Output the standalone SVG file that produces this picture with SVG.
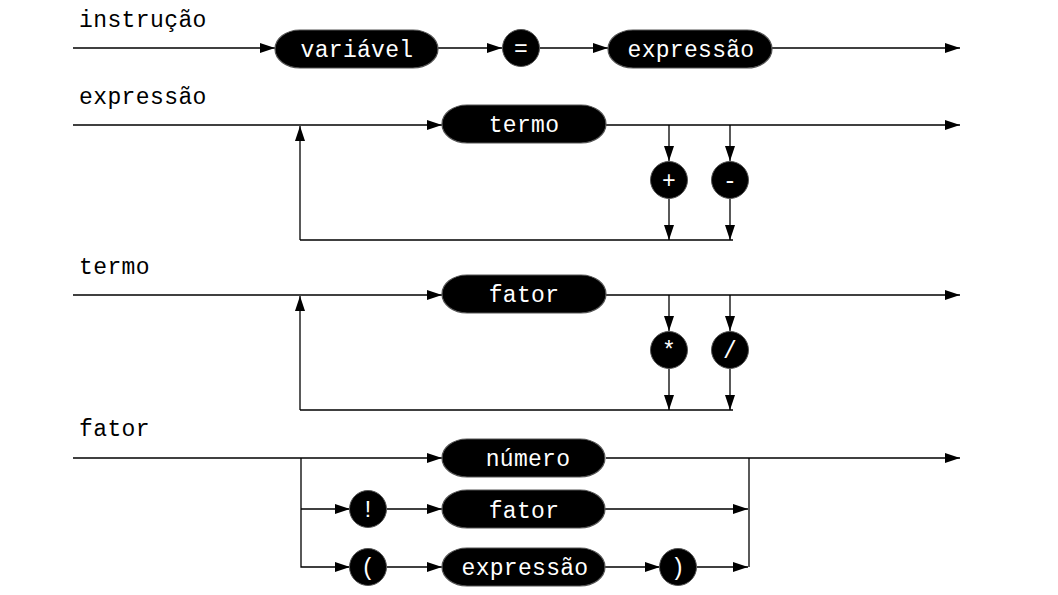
<svg xmlns="http://www.w3.org/2000/svg" width="1058" height="595" viewBox="0 0 1058 595">
<defs>
<marker id="arr" markerUnits="userSpaceOnUse" markerWidth="15" markerHeight="10" refX="15" refY="5" orient="auto">
<path d="M0,0 L15,5 L0,10 z" fill="#000"/>
</marker>
<style>
.lbl{font-family:"Liberation Mono","DejaVu Sans Mono",monospace;font-size:23px;letter-spacing:0.4px;fill:#000}
.t{font-family:"Liberation Mono","DejaVu Sans Mono",monospace;font-size:23px;letter-spacing:0.3px;fill:#fff;text-anchor:middle}
.pill{fill:#000;stroke:#555;stroke-width:1.2}
.c{fill:#000;stroke:#555;stroke-width:1}
.ln{fill:none;stroke:#000;stroke-width:1.3}
.a{marker-end:url(#arr)}
</style>
</defs>
<rect width="1058" height="595" fill="#fff"/>
<g id="labels">
<text class="lbl" x="79" y="27">instrução</text>
<text class="lbl" x="79" y="104">expressão</text>
<text class="lbl" x="79" y="274">termo</text>
<text class="lbl" x="79" y="436">fator</text>
</g>
<g id="connectors">
<path class="ln a" d="M73,48 H275"/>
<path class="ln a" d="M438,48 H502"/>
<path class="ln a" d="M540,48 H608"/>
<path class="ln a" d="M772,48 H960"/>
<path class="ln a" d="M73,125 H442"/>
<path class="ln a" d="M606,125 H960"/>
<path class="ln a" d="M300,240 V126"/>
<path class="ln" d="M300,240 H733"/>
<path class="ln a" d="M669,125 V161"/>
<path class="ln a" d="M669,199 V240"/>
<path class="ln a" d="M730,125 V161"/>
<path class="ln a" d="M730,199 V240"/>
<path class="ln a" d="M73,295 H442"/>
<path class="ln a" d="M606,295 H960"/>
<path class="ln a" d="M300,410 V296"/>
<path class="ln" d="M300,410 H733"/>
<path class="ln a" d="M669,295 V331"/>
<path class="ln a" d="M669,369 V410"/>
<path class="ln a" d="M730,295 V331"/>
<path class="ln a" d="M730,369 V410"/>
<path class="ln a" d="M73,458 H442"/>
<path class="ln a" d="M606,458 H960"/>
<path class="ln a" d="M301,509 H350"/>
<path class="ln a" d="M301,458 V567 H350"/>
<path class="ln a" d="M387,509 H442"/>
<path class="ln a" d="M605,509 H748"/>
<path class="ln" d="M749,458 V567"/>
<path class="ln a" d="M387,567 H442"/>
<path class="ln a" d="M605,567 H660"/>
<path class="ln a" d="M697,567 H748"/>
</g>
<g id="n-variavel"><rect class="pill" x="275" y="30" width="163" height="38" rx="25" ry="19"/><text class="t" x="357" y="57">variável</text></g>
<g id="n-eq"><circle class="c" cx="521" cy="48" r="18.5"/><text class="t" x="521" y="56">=</text></g>
<g id="n-expressao1"><rect class="pill" x="608" y="30" width="164" height="38" rx="25" ry="19"/><text class="t" x="691" y="57">expressão</text></g>
<g id="n-termo"><rect class="pill" x="442" y="105" width="164" height="38" rx="25" ry="19"/><text class="t" x="524" y="132">termo</text></g>
<g id="n-plus"><circle class="c" cx="669" cy="180" r="18.5"/><text class="t" x="669" y="188">+</text></g>
<g id="n-minus"><circle class="c" cx="730" cy="180" r="18.5"/><text class="t" x="730" y="188">-</text></g>
<g id="n-fator1"><rect class="pill" x="442" y="275" width="164" height="38" rx="25" ry="19"/><text class="t" x="524" y="302">fator</text></g>
<g id="n-mul"><circle class="c" cx="669" cy="350" r="18.5"/><text class="t" x="669" y="358">*</text></g>
<g id="n-div"><circle class="c" cx="730" cy="350" r="18.5"/><text class="t" x="730" y="358">/</text></g>
<g id="n-numero"><rect class="pill" x="442" y="439" width="163" height="38" rx="25" ry="19"/><text class="t" x="528" y="466">número</text></g>
<g id="n-not"><circle class="c" cx="368" cy="509" r="18.5"/><text class="t" x="368" y="517">!</text></g>
<g id="n-fator2"><rect class="pill" x="442" y="490" width="163" height="38" rx="25" ry="19"/><text class="t" x="524" y="518">fator</text></g>
<g id="n-lpar"><circle class="c" cx="368" cy="567" r="18.5"/><text class="t" x="368" y="575">(</text></g>
<g id="n-expressao2"><rect class="pill" x="442" y="548" width="163" height="38" rx="25" ry="19"/><text class="t" x="525" y="575">expressão</text></g>
<g id="n-rpar"><circle class="c" cx="678" cy="567" r="18.5"/><text class="t" x="678" y="575">)</text></g>
</svg>
